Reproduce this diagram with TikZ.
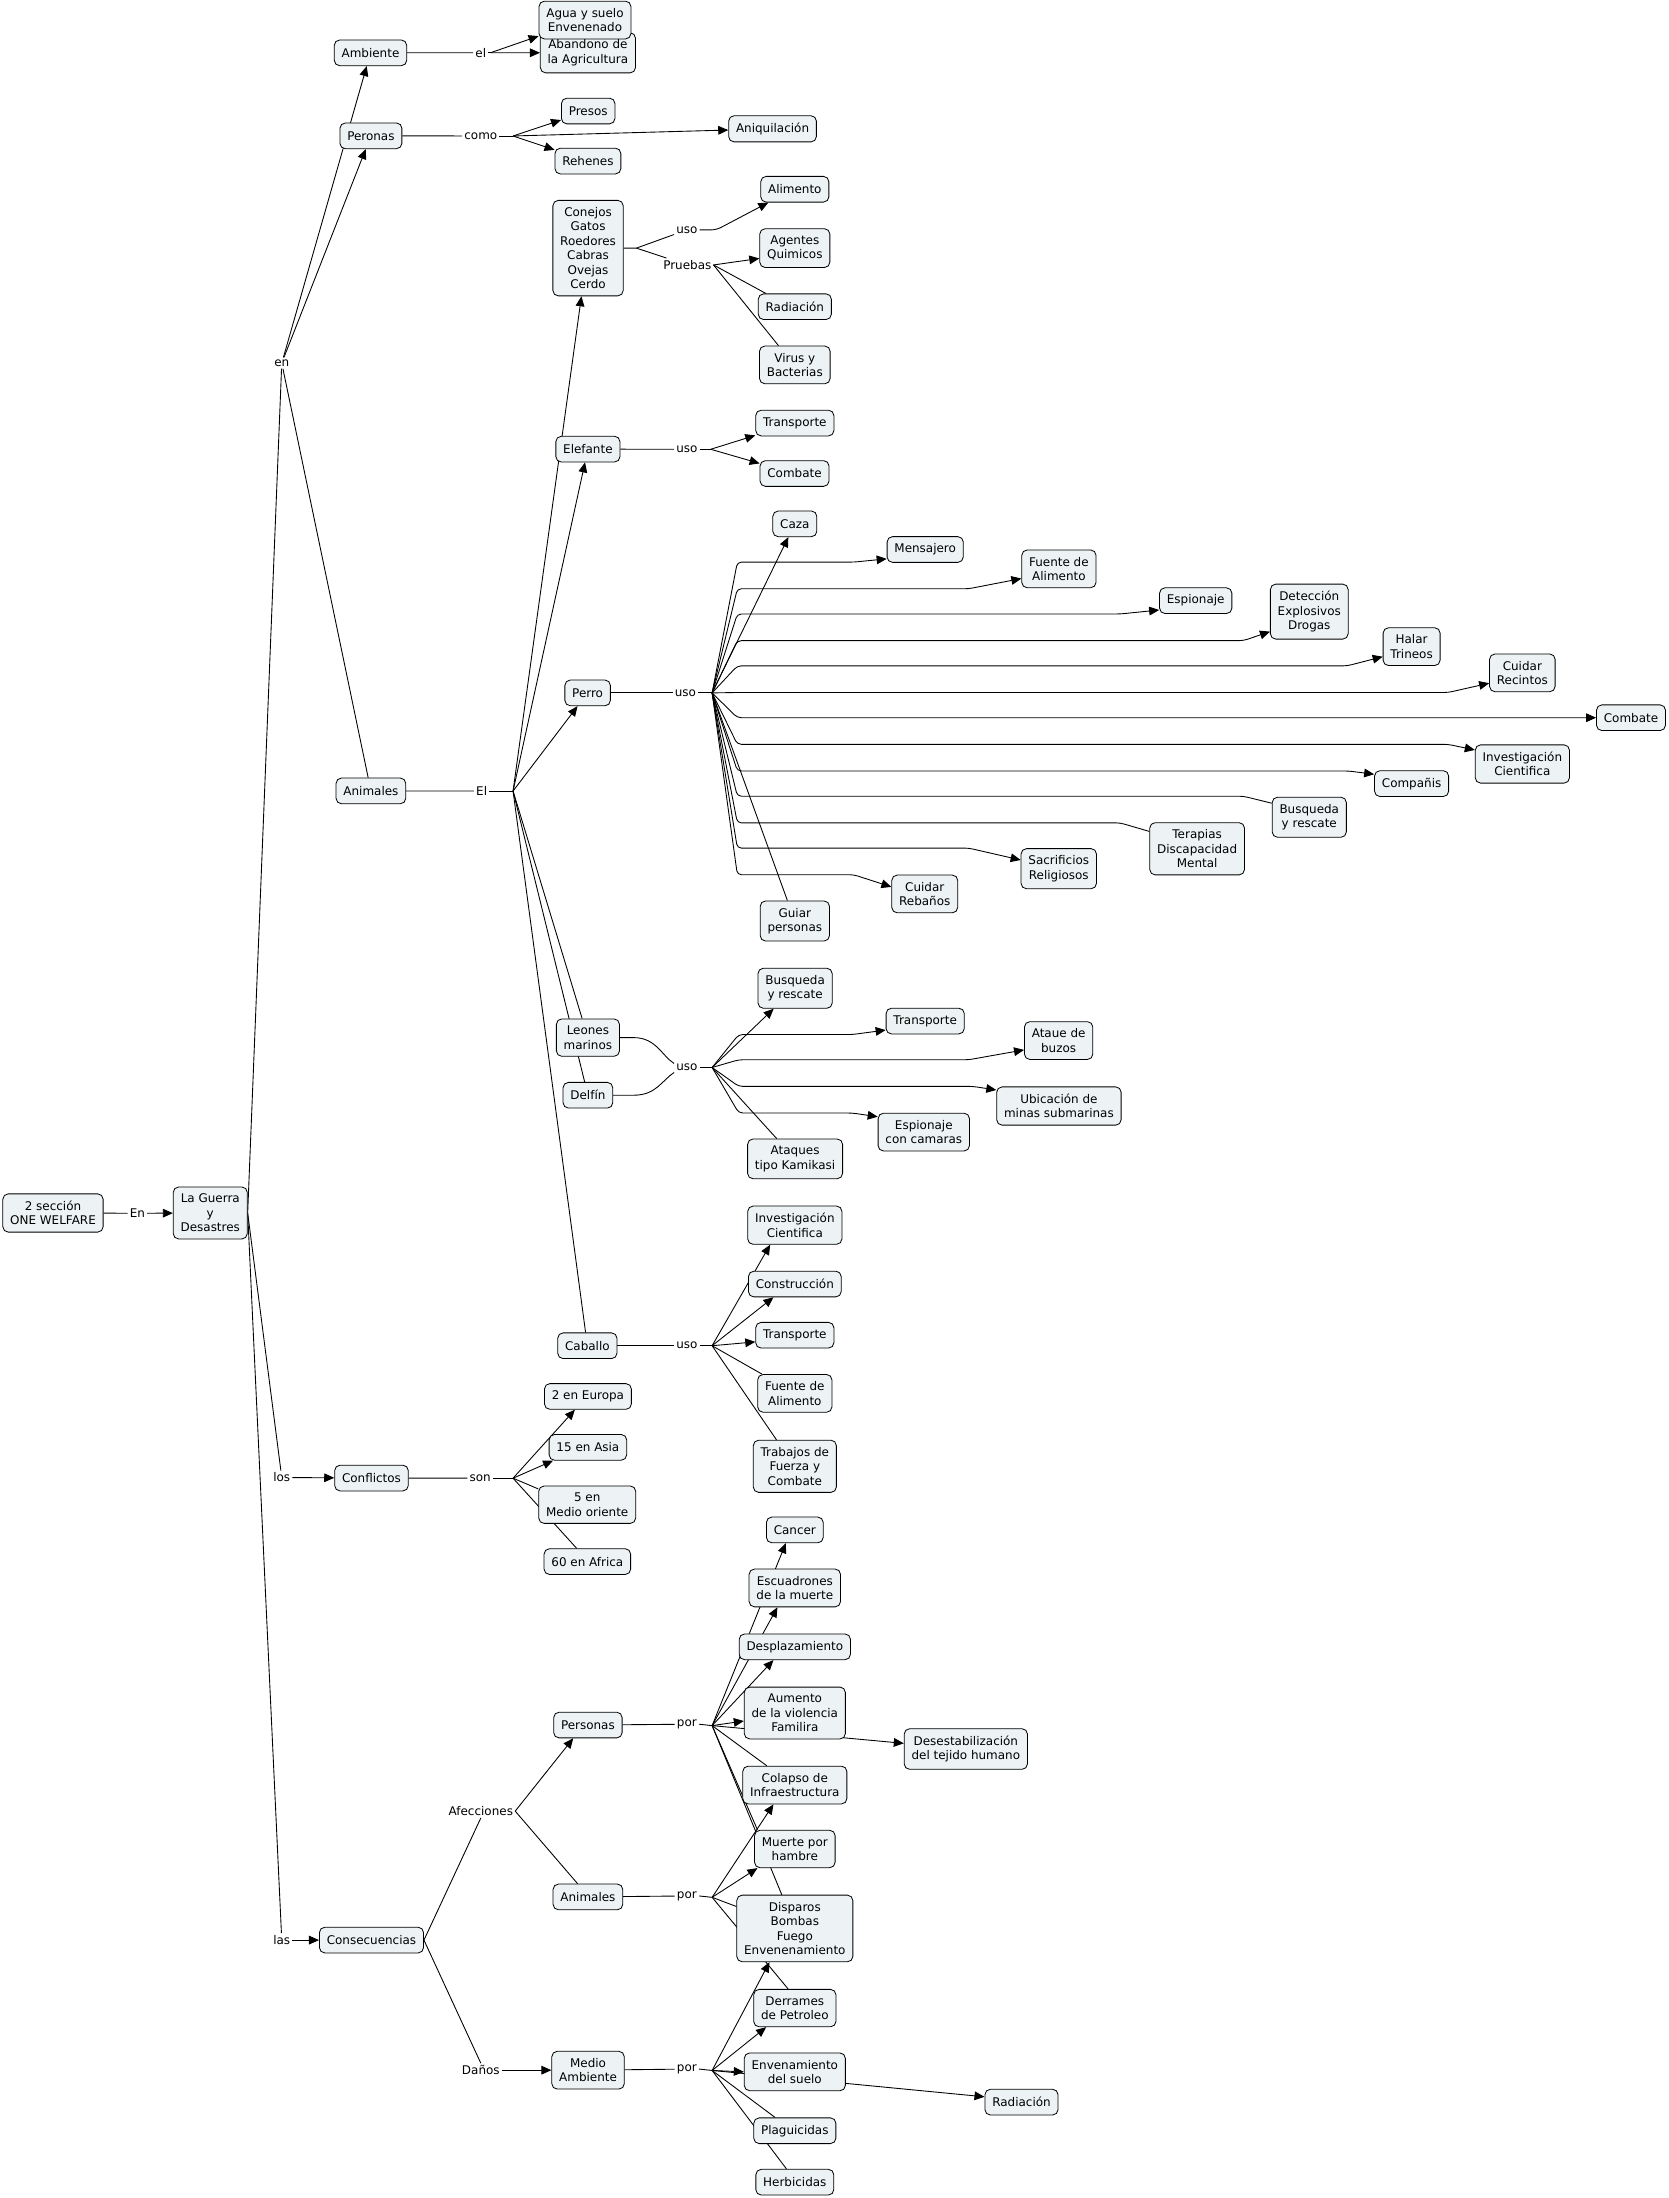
\documentclass[tikz,border=0pt]{standalone}
\usepackage{fontspec}
\setmainfont{DejaVu Sans}
\usetikzlibrary{arrows.meta, backgrounds}
\definecolor{CmapFill}{HTML}{EDF3F5}

\begin{document}
\begin{tikzpicture}[
  x=0.42mm, y=-0.42mm,
  concept/.style={draw=black, line width=0.7pt, fill=CmapFill, rounded corners=1.6mm,
    align=center, inner xsep=2.2mm, inner ysep=6pt, minimum height=7.7mm,
    font=\fontsize{10.2}{12.3}\selectfont},
  phrase/.style={inner sep=0.6mm, font=\fontsize{10.2}{12.3}\selectfont},
  link/.style={line width=0.75pt},
  arr/.style={link, -{Triangle[length=3mm,width=2.6mm]}}
]
\useasboundingbox (0,0) rectangle (1190,1568);

% root and first level
\node[concept] (one) at (37.8,865.3) {2 sección\\ONE WELFARE};
\node[concept] (guerra) at (150,865.3) {La Guerra\\y\\Desastres};
\node[phrase] (lEn) at (98,865.5) {En};
\node[phrase] (lenA) at (201,259) {en};
\node[phrase] (lLos) at (201,1054) {los};
\node[phrase] (lLas) at (201,1384) {las};

% ambiente / peronas
\node[concept] (ambiente) at (264.3,37.7) {Ambiente};
\node[phrase] (lEl) at (343,37.6) {el};
\node[concept] (abandono) at (419.4,37.7) {Abandono de\\la Agricultura};
\node[concept] (agua) at (417.3,14.3) {Agua y suelo\\Envenenado};
\node[concept] (peronas) at (264.6,96.9) {Peronas};
\node[phrase] (lComo) at (343,97) {como};
\node[concept] (presos) at (419.6,79.2) {Presos};
\node[concept] (rehenes) at (419.4,114.9) {Rehenes};
\node[concept] (aniq) at (551.1,91.9) {Aniquilación};

% animales
\node[concept] (animales) at (264.6,564.2) {Animales};
\node[phrase] (lEl2) at (343.6,564.3) {El};
\node[concept] (conejos) at (419.5,177) {Conejos\\Gatos\\Roedores\\Cabras\\Ovejas\\Cerdo};
\node[phrase] (lUso1) at (490,164) {uso};
\node[phrase] (lPru) at (490.3,189) {Pruebas};
\node[concept] (alimento) at (567,135) {Alimento};
\node[concept] (agentes) at (567,177) {Agentes\\Quimicos};
\node[concept] (radiacion1) at (567,218.8) {Radiación};
\node[concept] (virus) at (567,260.3) {Virus y\\Bacterias};
\node[concept] (elefante) at (419.4,320.4) {Elefante};
\node[phrase] (lUso2) at (490,320.5) {uso};
\node[concept] (transp1) at (567,301.8) {Transporte};
\node[concept] (combate1) at (566.8,337.8) {Combate};

% perro
\node[concept] (perro) at (419.2,494.3) {Perro};
\node[phrase] (lUso3) at (489,494.3) {uso};
\node[concept] (caza) at (567,373.7) {Caza};
\node[concept] (mensajero) at (660,392) {Mensajero};
\node[concept] (fuente1) at (755.4,405.8) {Fuente de\\Alimento};
\node[concept] (espionaje) at (853,428.5) {Espionaje};
\node[concept] (deteccion) at (934,436.3) {Detección\\Explosivos\\Drogas};
\node[concept] (halar) at (1007,461.3) {Halar\\Trineos};
\node[concept] (recintos) at (1086,480) {Cuidar\\Recintos};
\node[concept] (combate2) at (1163.5,512) {Combate};
\node[concept] (invest1) at (1086,545) {Investigación\\Cientifica};
\node[concept] (companis) at (1007,559) {Compañis};
\node[concept] (busq1) at (934,583) {Busqueda\\y rescate};
\node[concept] (terapias) at (854,605.5) {Terapias\\Discapacidad\\Mental};
\node[concept] (sacrif) at (755.3,619.7) {Sacrificios\\Religiosos};
\node[concept] (rebanos) at (659.7,637.7) {Cuidar\\Rebaños};
\node[concept] (guiar) at (567,657) {Guiar\\personas};

% leones marinos / delfin
\node[concept] (leones) at (419.4,740.2) {Leones\\marinos};
\node[concept] (delfin) at (419.4,781.3) {Delfín};
\node[phrase] (lUso4) at (490,761.5) {uso};
\node[concept] (busq2) at (567.2,705) {Busqueda\\y rescate};
\node[concept] (transp2) at (660,728.4) {Transporte};
\node[concept] (buzos) at (755.2,742.3) {Ataue de\\buzos};
\node[concept] (minas) at (755.4,789) {Ubicación de\\minas submarinas};
\node[concept] (espcam) at (659,807.6) {Espionaje\\con camaras};
\node[concept] (kamikasi) at (567.2,826.7) {Ataques\\tipo Kamikasi};

% caballo
\node[concept] (caballo) at (419,960) {Caballo};
\node[phrase] (lUso5) at (490,960) {uso};
\node[concept] (invest2) at (567,874) {Investigación\\Cientifica};
\node[concept] (constr) at (567,916) {Construcción};
\node[concept] (transp3) at (567,952.5) {Transporte};
\node[concept] (fuente2) at (567,994) {Fuente de\\Alimento};
\node[concept] (trabajos) at (567,1046) {Trabajos de\\Fuerza y\\Combate};

% conflictos
\node[concept] (conflictos) at (265,1054.4) {Conflictos};
\node[phrase] (lSon) at (342.5,1054.5) {son};
\node[concept] (europa) at (419.4,996.2) {2 en Europa};
\node[concept] (asia) at (419.4,1032.5) {15 en Asia};
\node[concept] (medio) at (418.9,1073.4) {5 en\\Medio oriente};
\node[concept] (africa) at (419,1114) {60 en Africa};

% consecuencias
\node[concept] (consec) at (265,1384) {Consecuencias};
\node[phrase] (lAfec) at (343,1292) {Afecciones};
\node[phrase] (lDanos) at (343,1476.8) {Daños};
\node[concept] (personas) at (419.4,1230.6) {Personas};
\node[concept] (animales2) at (419.4,1353.2) {Animales};
\node[concept] (medioamb) at (419.5,1476.8) {Medio\\Ambiente};
\node[phrase] (lPor1) at (490,1230) {por};
\node[phrase] (lPor2) at (490,1352.5) {por};
\node[phrase] (lPor3) at (490,1476) {por};
\node[concept] (cancer) at (567,1091.4) {Cancer};
\node[concept] (escuad) at (567,1132.8) {Escuadrones\\de la muerte};
\node[concept] (desplaz) at (567,1174.8) {Desplazamiento};
\node[concept] (aumento) at (567,1222) {Aumento\\de la violencia\\Familira};
\node[concept] (colapso) at (567,1273.4) {Colapso de\\Infraestructura};
\node[concept] (desest) at (689,1247.7) {Desestabilización\\del tejido humano};
\node[concept] (muerte) at (567,1319) {Muerte por\\hambre};
\node[concept] (disparos) at (567,1375.7) {Disparos\\Bombas\\Fuego\\Envenenamiento};
\node[concept] (derrames) at (567,1432.5) {Derrames\\de Petroleo};
\node[concept] (envsuelo) at (567,1478) {Envenamiento\\del suelo};
\node[concept] (radiacion2) at (728.7,1499.6) {Radiación};
\node[concept] (plaguic) at (567,1520) {Plaguicidas};
\node[concept] (herbic) at (567,1556.7) {Herbicidas};

% hubs of the linking phrases
\coordinate (hEl) at (350,37.6);
\coordinate (hComo) at (366,97);
\coordinate (hEl2) at (366,564.3);
\coordinate (hPru) at (509,189);
\coordinate (hUso2) at (507,320.5);
\coordinate (hUso3) at (508,494.3);
\coordinate (hUso4) at (508,761.5);
\coordinate (hUso5) at (508,960);
\coordinate (hSon) at (366,1054.5);
\coordinate (hPor1) at (508,1231);
\coordinate (hPor2) at (508,1353.5);
\coordinate (hPor3) at (508,1477);
\coordinate (cSplit) at (454,177);

\begin{scope}[on background layer]
\fill[white] (0,0) rectangle (1190,1568);

% trunk
\draw[link] (one) -- (lEn);
\draw[arr] (lEn) -- (guerra);
\draw[link] (guerra.east) -- (lenA);
\draw[link] (guerra.east) -- (lLos);
\draw[link] (guerra.east) -- (lLas);
\draw[arr] (lLos) -- (conflictos);
\draw[arr] (lLas) -- (consec);
\draw[arr] (lenA) -- (ambiente);
\draw[arr] (lenA) -- (peronas);
\draw[link] (lenA) -- (animales);

% ambiente, peronas
\draw[link] (ambiente) -- (lEl);
\draw[link] (lEl.east) -- (hEl);
\draw[arr] (hEl) -- (agua);
\draw[arr] (hEl) -- (abandono);
\draw[link] (peronas) -- (lComo);
\draw[link] (lComo.east) -- (hComo);
\draw[arr] (hComo) -- (presos);
\draw[arr] (hComo) -- (rehenes);
\draw[arr] (hComo) -- (aniq);

% animales
\draw[link] (animales) -- (lEl2);
\draw[link] (lEl2.east) -- (hEl2);
\draw[arr] (hEl2) -- (conejos);
\draw[arr] (hEl2) -- (elefante);
\draw[arr] (hEl2) -- (perro);
\draw[link] (hEl2) -- (leones);
\draw[link] (hEl2) -- (delfin);
\draw[link] (hEl2) -- (caballo);

% conejos ...
\draw[link] (conejos.east) -- (cSplit) -- (lUso1);
\draw[link] (cSplit) -- (lPru);
\draw[arr, rounded corners=1.5mm] (lUso1.east) -- (511,164) -- ([xshift=2.4mm]alimento.south west);
\draw[arr] (hPru) -- ([yshift=-3.1mm]agentes.west);
\draw[link] (hPru) -- ([xshift=2.4mm]radiacion1.north west);
\draw[link] (hPru) -- ([xshift=-4.9mm]virus.north);

% elefante
\draw[link] (elefante) -- (lUso2);
\draw[link] (lUso2.east) -- (hUso2);
\draw[arr] (hUso2) -- (transp1);
\draw[arr] (hUso2) -- (combate1);

% perro
\draw[link] (perro) -- (lUso3);
\draw[link] (lUso3.east) -- (hUso3);
\draw[arr] (hUso3) -- (caza);
\draw[link] (hUso3) -- (guiar);
\foreach \r/\xe/\t/\dy in {401/609/mensajero/-2.8, 420/691/fuente1/-2.9,
    438/799/espionaje/-2.8, 457/887/deteccion/-6, 475/961/halar/-3,
    494/1033/recintos/-3.1, 512/1100/combate2/0, 531/1033/invest1/4.2,
    550/962/companis/2.8, 605/691/sacrif/2.6, 624/609/rebanos/2.1}
  \draw[arr, rounded corners=1.2mm] (hUso3) -- (526,\r) -- (\xe,\r) -- ([yshift=\dy mm]\t.west);
\foreach \r/\xe/\t/\dy in {568/887/busq1/4.2, 587/799/terapias/5.2}
  \draw[link, rounded corners=1.2mm] (hUso3) -- (526,\r) -- (\xe,\r) -- ([yshift=\dy mm]\t.west);

% leones marinos, delfin
\draw[link] (leones.east) -- (452,740.2) .. controls (468,740.2) and (472,753) .. ([yshift=1.2mm]lUso4.west);
\draw[link] (delfin.east) -- (452,781.3) .. controls (468,781.3) and (472,771) .. ([yshift=-1.5mm]lUso4.west);
\draw[link] (lUso4.east) -- (hUso4);
\draw[arr] (hUso4) -- (busq2);
\draw[link] (hUso4) -- (kamikasi);
\foreach \r/\xe/\t/\dy in {738/608/transp2/-2.7, 756/691/buzos/-2.8,
    775/694/minas/4.8, 794/608/espcam/4.6}
  \draw[arr, rounded corners=1.2mm] (hUso4) -- (527,\r) -- (\xe,\r) -- ([yshift=\dy mm]\t.west);

% caballo
\draw[link] (caballo) -- (lUso5);
\draw[link] (lUso5.east) -- (hUso5);
\draw[arr] (hUso5) -- ([xshift=-7.4mm]invest2.south);
\draw[arr] (hUso5) -- ([xshift=-6.4mm]constr.south);
\draw[arr] (hUso5) -- ([yshift=-2mm]transp3.west);
\draw[link] (hUso5) -- ([xshift=1.4mm]fuente2.north west);
\draw[link] (hUso5) -- ([xshift=-5.5mm]trabajos.north);

% conflictos
\draw[link] (conflictos) -- (lSon);
\draw[link] (lSon.east) -- (hSon);
\draw[arr] (hSon) -- ([xshift=-3.9mm]europa.south);
\draw[arr] (hSon) -- ([xshift=1.3mm]asia.south west);
\draw[link] (hSon) -- ([yshift=-1mm]medio.north west);
\draw[link] (hSon) -- ([xshift=-3.2mm]africa.north);

% consecuencias
\draw[link] (consec.east) -- (lAfec.south);
\draw[link] (consec.east) -- (lDanos.north);
\draw[arr] (lAfec.east) -- ([xshift=-4.4mm]personas.south);
\draw[link] (lAfec.east) -- ([xshift=-3.1mm]animales2.north);
\draw[arr] (lDanos) -- (medioamb);

% personas
\draw[link] (personas) -- (lPor1);
\draw[link] (lPor1.east) -- (hPor1);
\draw[arr] (hPor1) -- ([xshift=-2.7mm]cancer.south);
\draw[arr] (hPor1) -- ([xshift=-5.2mm]escuad.south);
\draw[arr] (hPor1) -- ([xshift=-6.4mm]desplaz.south);
\draw[arr] (hPor1) -- ([yshift=-2.4mm]aumento.west);
\draw[arr] (hPor1) -- ([yshift=1.7mm]desest.west);
\draw[link] (hPor1) -- ([xshift=-8.4mm]colapso.north);
\draw[link] (hPor1) -- ([xshift=1mm]muerte.north west);
\draw[link] (hPor1) -- ([xshift=-3.9mm]disparos.north);

% animales
\draw[link] (animales2) -- (lPor2);
\draw[link] (lPor2.east) -- (hPor2);
\draw[arr] (hPor2) -- ([xshift=-6.4mm]colapso.south);
\draw[arr] (hPor2) -- ([xshift=1mm]muerte.south west);
\draw[link] (hPor2) -- (disparos);
\draw[link] (hPor2) -- ([xshift=-2mm]derrames.north);

% medio ambiente
\draw[link] (medioamb) -- (lPor3);
\draw[link] (lPor3.east) -- (hPor3);
\draw[arr] (hPor3) -- ([xshift=-7.6mm]disparos.south);
\draw[arr] (hPor3) -- ([xshift=-8.6mm]derrames.south);
\draw[arr] (hPor3) -- (envsuelo.west);
\draw[arr] (hPor3) -- ([yshift=1.6mm]radiacion2.west);
\draw[link] (hPor3) -- ([xshift=-5.9mm]plaguic.north);
\draw[link] (hPor3) -- ([xshift=-2.5mm]herbic.north);
\end{scope}
\end{tikzpicture}
\end{document}
